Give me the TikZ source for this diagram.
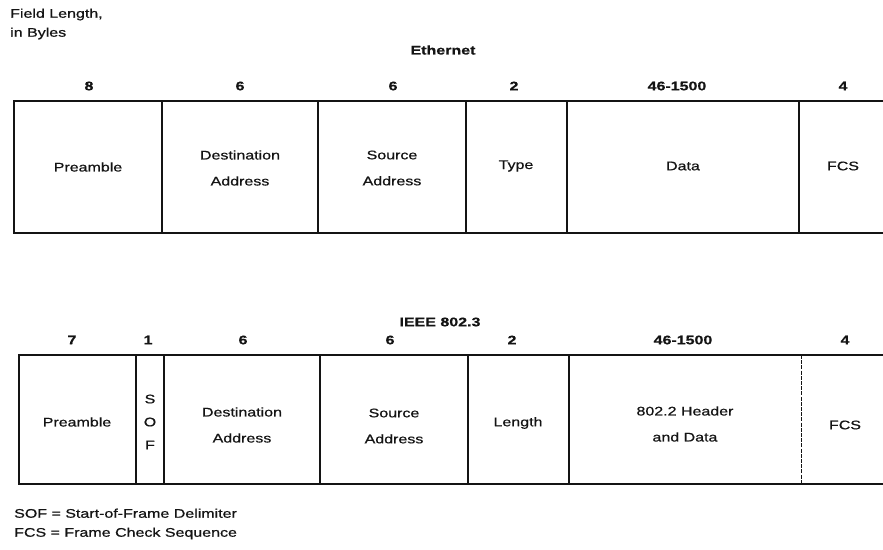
\documentclass[tikz,border=0pt]{standalone}
\usepackage{fontspec}
\setmainfont{Liberation Sans}[FakeStretch=1.28, FakeBold=0.7]
\definecolor{ink}{HTML}{141414}
\begin{document}
\begin{tikzpicture}[x=1pt,y=-1pt,
  lbl/.style={font=\fontsize{12.5}{26}\selectfont, align=center, inner sep=0pt, text=ink},
  num/.style={font=\fontsize{12.5}{15}\selectfont\bfseries, inner sep=0pt, text=ink},
  ttl/.style={font=\fontsize{12.5}{15}\selectfont\bfseries, inner sep=0pt, text=ink},
  note/.style={font=\fontsize{12.5}{19}\selectfont, align=left, inner sep=0pt, text=ink, anchor=west},
  frame/.style={draw=ink, line width=1.3pt},
  thinsep/.style={draw=ink, line width=0.8pt, dash pattern=on 4pt off 1.2pt},
]
\useasboundingbox (0,0) rectangle (883,549);

% header text
\node[note] (fl) at (10,24) {Field Length,\\in Byles};
\node[ttl] (eth) at (443,50) {Ethernet};

% ---------- Ethernet frame ----------
\coordinate (tL) at (14,101);
\coordinate (bL) at (14,233);
\draw[frame] (883,101) -- (tL) -- (bL) -- (883,233);
\foreach \x in {162,318,466,567,799}
  \draw[frame] (\x,101) -- (\x,233);

\node[num] (e1) at (89,86) {8};
\node[num] (e2) at (240,86) {6};
\node[num] (e3) at (393,86) {6};
\node[num] (e4) at (514,86) {2};
\node[num] (e5) at (677,86) {46-1500};
\node[num] (e6) at (843,86) {4};

\node[lbl] (ep) at (88,167) {Preamble};
\node[lbl] (ed) at (240,168) {Destination\\Address};
\node[lbl] (es) at (392,168) {Source\\Address};
\node[lbl] (et) at (516,166) {Type};
\node[lbl] (edata) at (683,166) {Data};
\node[lbl] (efcs) at (843,166) {FCS};

% ---------- IEEE 802.3 frame ----------
\node[ttl] (ieee) at (440,322) {IEEE 802.3};

\coordinate (TL) at (19,355);
\coordinate (BL) at (19,484);
\draw[frame] (883,355) -- (TL) -- (BL) -- (883,484);
\foreach \x in {136,164,320,468,569}
  \draw[frame] (\x,355) -- (\x,484);
\draw[thinsep] (801,355) -- (801,484);

\node[num] (i1) at (72,340) {7};
\node[num] (i2) at (148,340) {1};
\node[num] (i3) at (243,340) {6};
\node[num] (i4) at (390,340) {6};
\node[num] (i5) at (512,340) {2};
\node[num] (i6) at (683,340) {46-1500};
\node[num] (i7) at (845,340) {4};

\node[lbl] (ip) at (77,422) {Preamble};
\node[lbl, font=\fontsize{12.5}{23}\selectfont] (isof) at (150,422) {S\\O\\F};
\node[lbl] (id) at (242,425) {Destination\\Address};
\node[lbl] (is) at (394,426) {Source\\Address};
\node[lbl] (ilen) at (518,423) {Length};
\node[lbl] (ih) at (685,424) {802.2 Header\\and Data};
\node[lbl] (ifcs) at (845,425) {FCS};

% legend
\node[note] (leg) at (14,524) {SOF = Start-of-Frame Delimiter\\FCS = Frame Check Sequence};
\end{tikzpicture}
\end{document}
